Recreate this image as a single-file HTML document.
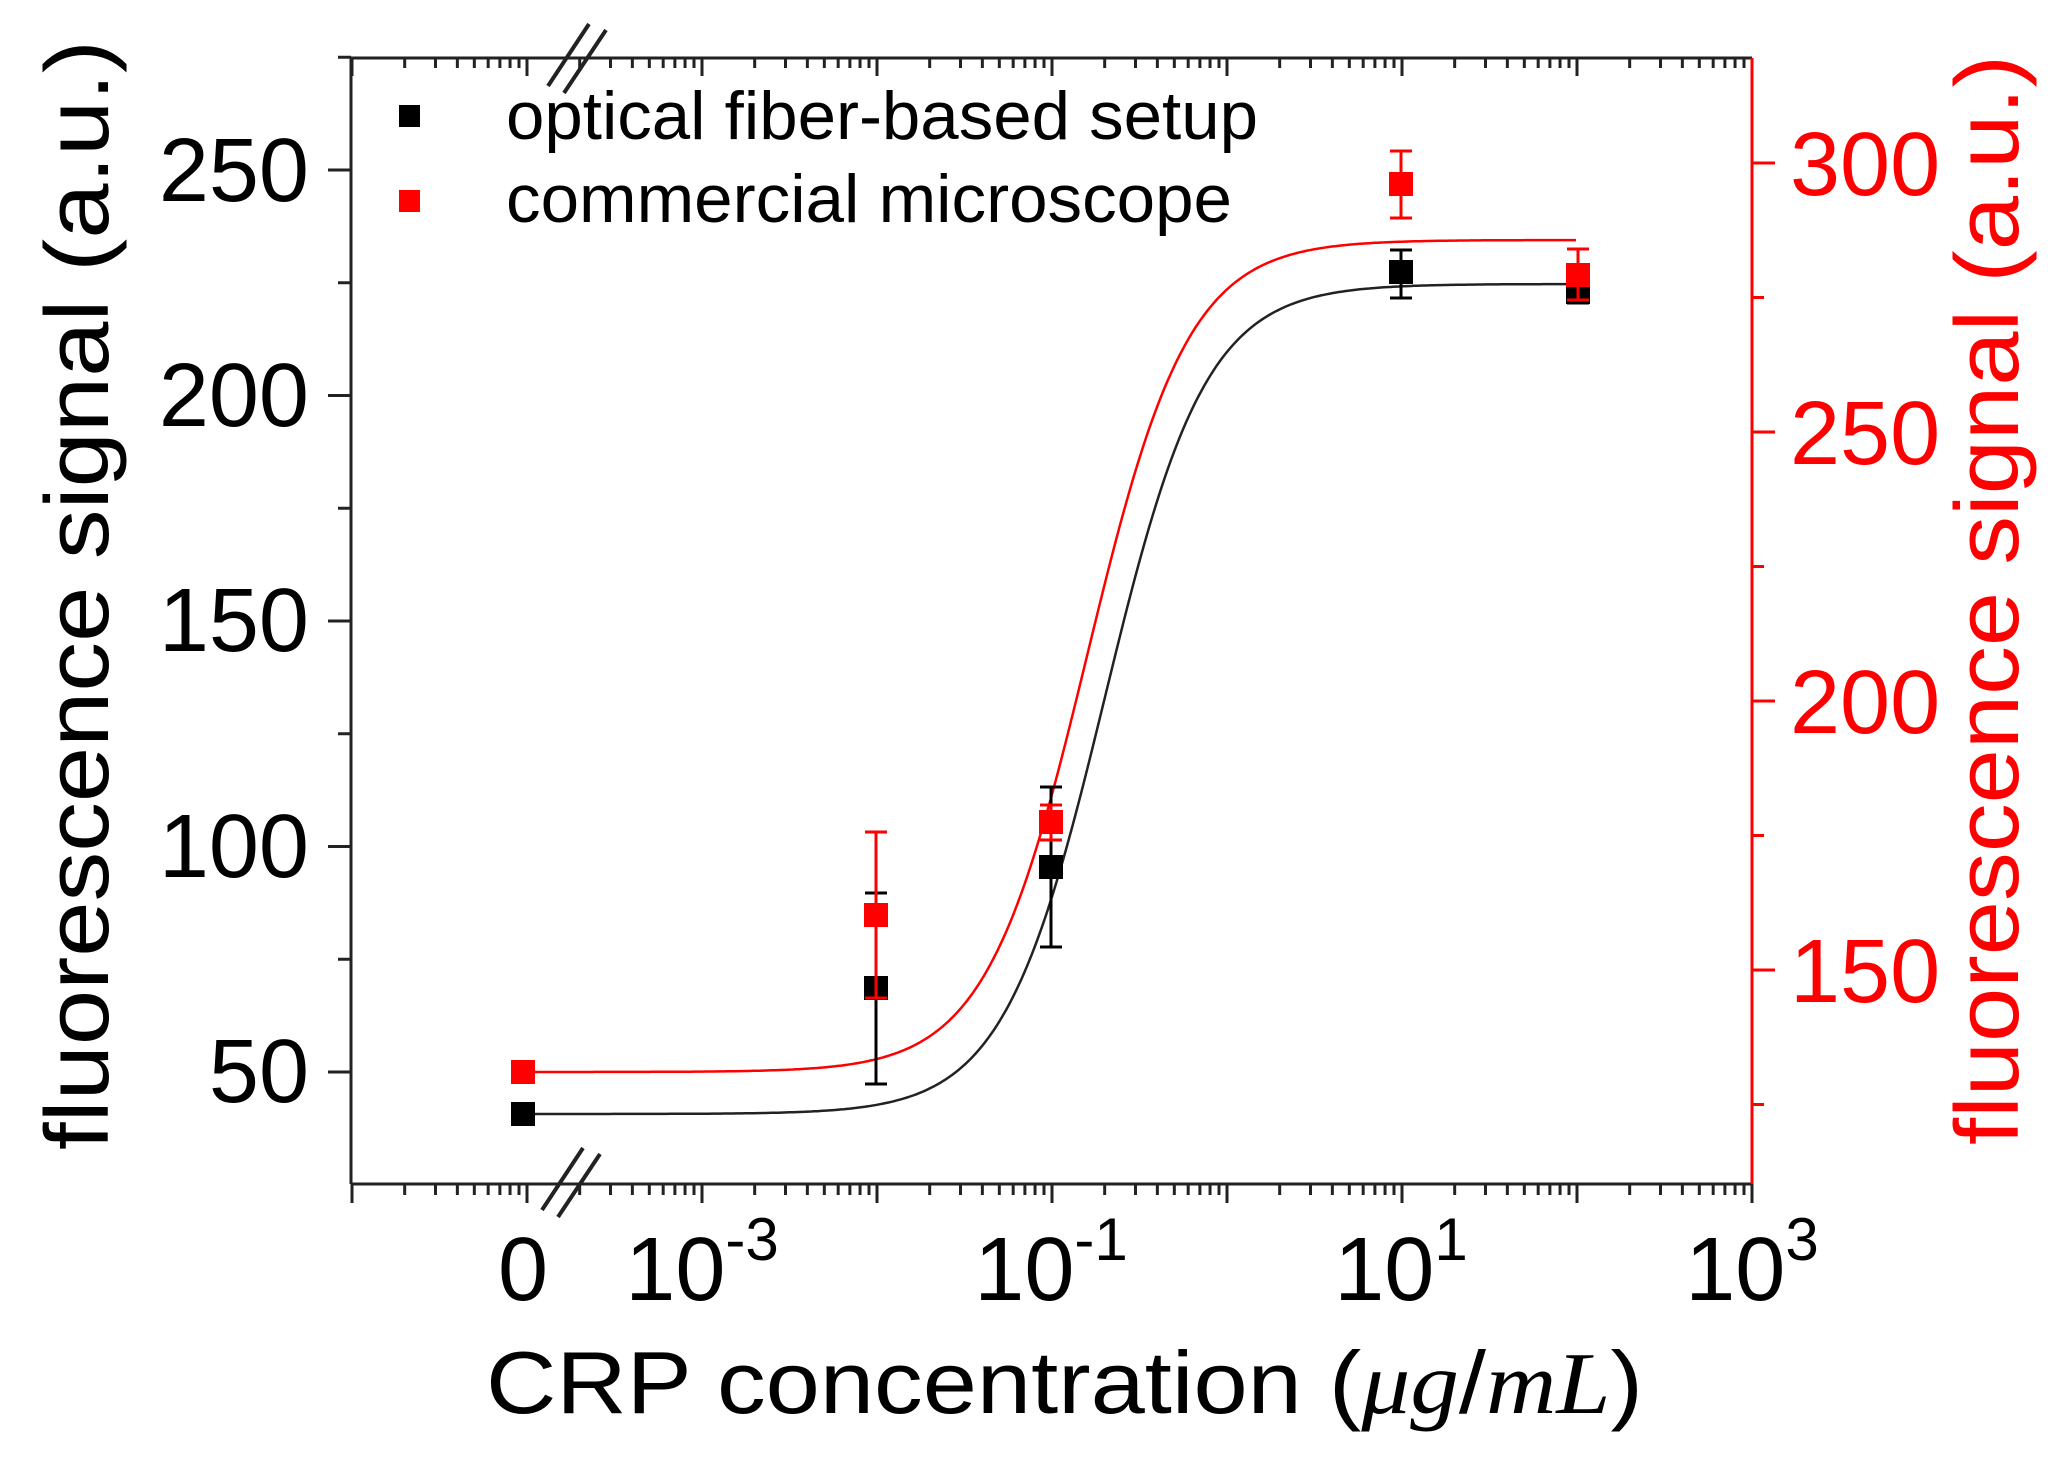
<!DOCTYPE html>
<html><head><meta charset="utf-8"><style>
html,body{margin:0;padding:0;background:#fff;}
svg{display:block;font-family:"Liberation Sans",Arial,sans-serif;}
</style></head><body>
<svg id="s" width="2061" height="1458" viewBox="0 0 2061 1458" xmlns="http://www.w3.org/2000/svg">
<rect width="2061" height="1458" fill="#fff"/>
<g id="ticks"></g>
<line x1="351" y1="58" x2="1752" y2="58" stroke="#222" stroke-width="3"/>
<line x1="351" y1="1184" x2="1752" y2="1184" stroke="#222" stroke-width="3"/>
<line x1="351" y1="58" x2="351" y2="1184" stroke="#222" stroke-width="3"/>
<line x1="1752" y1="58" x2="1752" y2="1184" stroke="#f00" stroke-width="3"/>
<g stroke="#222" stroke-width="4">
<line x1="542" y1="1210" x2="583" y2="1148"/><line x1="558" y1="1217" x2="600" y2="1154"/>
<line x1="548" y1="86" x2="589" y2="24"/><line x1="564" y1="93" x2="606" y2="30"/>
</g>
<path id="cb" fill="none" stroke="#222" stroke-width="2.5"/>
<path id="cr" fill="none" stroke="#f00" stroke-width="2.5"/>
<g id="pts"></g>
<rect x="399" y="105" width="21" height="22" fill="#000"/>
<rect x="399" y="190" width="21" height="22" fill="#f00"/>
<text x="506" y="139" font-size="68" textLength="752" lengthAdjust="spacingAndGlyphs">optical fiber-based setup</text>
<text x="506" y="222" font-size="68" textLength="726" lengthAdjust="spacingAndGlyphs">commercial microscope</text>
<g font-size="90" text-anchor="end">
<text x="309" y="201">250</text><text x="309" y="426">200</text><text x="309" y="651">150</text><text x="309" y="877">100</text><text x="309" y="1102">50</text>
</g>
<g font-size="90" fill="#f00">
<text x="1790" y="195">300</text><text x="1790" y="464">250</text><text x="1790" y="733">200</text><text x="1790" y="1002">150</text>
</g>
<g font-size="90" text-anchor="middle">
<text x="523" y="1300">0</text>
<text x="702" y="1300">10<tspan font-size="60" dy="-40">-3</tspan></text>
<text x="1051" y="1300">10<tspan font-size="60" dy="-40">-1</tspan></text>
<text x="1401" y="1300">10<tspan font-size="60" dy="-40">1</tspan></text>
<text x="1752" y="1300">10<tspan font-size="60" dy="-40">3</tspan></text>
</g>
<text x="486" y="1413" font-size="88" textLength="1157" lengthAdjust="spacingAndGlyphs">CRP concentration (<tspan font-family="'Liberation Serif',serif" font-style="italic">μg</tspan>/<tspan font-family="'Liberation Serif',serif" font-style="italic">mL</tspan>)</text>
<text transform="translate(108,595) rotate(-90)" font-size="90" text-anchor="middle" textLength="1110" lengthAdjust="spacingAndGlyphs">fluorescence signal (a.u.)</text>
<text transform="translate(2018,600) rotate(-90)" font-size="90" text-anchor="middle" fill="#f00" textLength="1090" lengthAdjust="spacingAndGlyphs">fluorescence signal (a.u.)</text>
</svg>
<script>
var NS="http://www.w3.org/2000/svg";
function el(p,t,a){var e=document.createElementNS(NS,t);for(var k in a)e.setAttribute(k,a[k]);p.appendChild(e);return e;}
var T=document.getElementById("ticks");
function X(l){return 702+(l+3)*175;}
for(var d=-5;d<=3;d++){
  var x=X(d);
  el(T,"line",{x1:x,y1:1184,x2:x,y2:1203,stroke:"#222","stroke-width":3});
  el(T,"line",{x1:x,y1:58,x2:x,y2:76,stroke:"#222","stroke-width":3});
  if(d<3)for(var m=2;m<=9;m++){var xm=X(d+Math.log10(m));
    el(T,"line",{x1:xm,y1:1184,x2:xm,y2:1195,stroke:"#222","stroke-width":3});
    el(T,"line",{x1:xm,y1:58,x2:xm,y2:68,stroke:"#222","stroke-width":3});}
}
function YL(v){return 170+(250-v)*4.51;}
for(var v=50;v<=275;v+=25){var y=YL(v);var maj=(v%50==0);
  el(T,"line",{x1:351,y1:y,x2:maj?328:338,y2:y,stroke:"#222","stroke-width":3});}
function YR(v){return 163+(300-v)*5.38;}
for(var v=125;v<=300;v+=25){var y=YR(v);var maj=(v%50==0);
  el(T,"line",{x1:1752,y1:y,x2:maj?1775:1764,y2:y,stroke:"#f00","stroke-width":3});}
function curve(id,A,B,x0,n){var d="";for(var px=523;px<=1578;px+=3){var l=(px-702)/175-3;
  var y=A+(B-A)/(1+Math.pow(10,(x0-l)*n));d+=(d?"L":"M")+px+","+y.toFixed(1);}
  document.getElementById(id).setAttribute("d",d);}
curve("cb",1114,284,-0.70,1.5);
curve("cr",1072,240,-0.80,1.5);
var P=document.getElementById("pts");
function pt(x,y,t,b,c){
  if(t!=null){el(P,"line",{x1:x,y1:t,x2:x,y2:b,stroke:c,"stroke-width":3});
   el(P,"line",{x1:x-11,y1:t,x2:x+11,y2:t,stroke:c,"stroke-width":3});
   el(P,"line",{x1:x-11,y1:b,x2:x+11,y2:b,stroke:c,"stroke-width":3});}
  el(P,"rect",{x:x-12,y:y-12,width:24,height:24,fill:c});}
pt(523,1114,null,null,"#000");
pt(876,988,893,1084,"#000");
pt(1051,867,787,947,"#000");
pt(1401,272,250,298,"#000");
pt(1578,292,280,303,"#000");
pt(523,1072,null,null,"#f00");
pt(876,915,832,998,"#f00");
pt(1051,822,805,840,"#f00");
pt(1401,184,151,218,"#f00");
pt(1578,275,249,300,"#f00");
</script>
</body></html>
